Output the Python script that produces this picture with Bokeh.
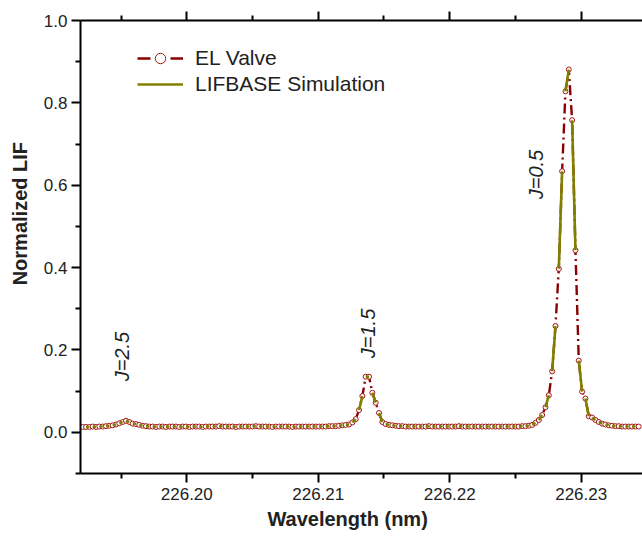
import numpy as np
from bokeh.plotting import figure
from bokeh.models import (LinearAxis, FixedTicker, PrintfTickFormatter, Range1d,
                          Legend, LegendItem)
from bokeh.embed import file_html
from bokeh.resources import INLINE
from bokeh.core.properties import value

# ---- data -------------------------------------------------------------
wl_start = 226.192084      # first scan wavelength (nm)
wl_step = 0.00025323       # scan step (nm)

lif_el = [
    0.013, 0.013, 0.013, 0.014, 0.013, 0.014, 0.014, 0.015, 0.016, 0.017,   # 0
    0.019, 0.022, 0.025, 0.028, 0.025, 0.021, 0.020, 0.018, 0.016, 0.015,   # 10
    0.014, 0.014, 0.013, 0.014, 0.014, 0.013, 0.014, 0.014, 0.014, 0.013,   # 20
    0.014, 0.014, 0.013, 0.014, 0.014, 0.014, 0.013, 0.014, 0.014, 0.014,   # 30
    0.014, 0.015, 0.014, 0.014, 0.014, 0.014, 0.013, 0.014, 0.014, 0.014,   # 40
    0.014, 0.014, 0.015, 0.014, 0.014, 0.014, 0.014, 0.013, 0.014, 0.014,   # 50
    0.014, 0.014, 0.014, 0.013, 0.014, 0.014, 0.014, 0.014, 0.014, 0.014,   # 60
    0.014, 0.014, 0.014, 0.014, 0.015, 0.015, 0.015, 0.016, 0.017, 0.018,   # 70
    0.019, 0.024, 0.032, 0.054, 0.088, 0.135, 0.135, 0.096, 0.072, 0.047,   # 80
    0.025, 0.020, 0.018, 0.017, 0.016, 0.015, 0.015, 0.014, 0.014, 0.014,   # 90
    0.014, 0.014, 0.014, 0.014, 0.015, 0.014, 0.014, 0.014, 0.014, 0.014,   # 100
    0.014, 0.014, 0.014, 0.015, 0.014, 0.014, 0.014, 0.014, 0.014, 0.014,   # 110
    0.014, 0.014, 0.014, 0.014, 0.014, 0.014, 0.014, 0.014, 0.014, 0.014,   # 120
    0.014, 0.014, 0.015, 0.015, 0.016, 0.018, 0.023, 0.030, 0.042, 0.061,   # 130
    0.090, 0.148, 0.258, 0.397, 0.634, 0.828, 0.881, 0.758, 0.442, 0.174,   # 140
    0.099, 0.082, 0.039, 0.036, 0.030, 0.025, 0.021, 0.019, 0.017, 0.016,   # 150
    0.015, 0.015, 0.014, 0.014, 0.014, 0.014, 0.014, 0.014,                 # 160
]
# LIFBASE simulation coincides with the measured points
lif_sim = lif_el

x_major = [226.20, 226.21, 226.22, 226.23]
x_minor = [226.195, 226.205, 226.215, 226.225, 226.235]
y_major = [0.0, 0.2, 0.4, 0.6, 0.8, 1.0]
y_minor = [-0.1, 0.1, 0.3, 0.5, 0.7, 0.9]

j_labels = ["J=2.5", "J=1.5", "J=0.5"]
j_x = [226.19511, 226.21382, 226.22658]
j_y = [0.184, 0.240, 0.626]

wl = [wl_start + wl_step * i for i in range(len(lif_el))]

RED = "#8b0000"
CIRC = "#a31515"
OLIVE = "#808000"
FONT = "Liberation Sans"
TXT = "#222222"
NB = "\u00a0"

p = figure(width=642, height=537,
           x_range=Range1d(226.191916, 226.234662), y_range=Range1d(-0.1, 1.0),
           x_axis_location=None, y_axis_location=None,
           output_backend="svg", toolbar_location=None,
           min_border_left=80, min_border_right=0, min_border_top=20,
           min_border_bottom=64)
p.grid.visible = False
p.outline_line_color = None
p.background_fill_color = "white"


def style(ax):
    ax.axis_line_width = 2
    ax.axis_line_color = "black"
    ax.major_tick_line_width = 2
    ax.minor_tick_line_width = 2
    ax.major_tick_line_color = "black"
    ax.minor_tick_line_color = "black"
    ax.major_tick_in = 0
    ax.minor_tick_in = 0
    ax.major_tick_out = 9
    ax.minor_tick_out = 5
    ax.major_label_text_font = FONT
    ax.major_label_text_font_size = "17px"
    ax.major_label_text_color = TXT
    ax.axis_label_text_font = FONT
    ax.axis_label_text_font_style = "bold"
    ax.axis_label_text_font_size = "20px"
    ax.axis_label_text_color = TXT


xb = LinearAxis(ticker=FixedTicker(ticks=x_major, minor_ticks=x_minor),
                formatter=PrintfTickFormatter(format="%.2f"),
                axis_label="Wavelength (nm)" + NB * 5)
style(xb)
xb.major_label_standoff = 5
xb.axis_label_standoff = 5
p.add_layout(xb, "below")

# top frame axis: ticks only, no labels
xt = LinearAxis(ticker=FixedTicker(ticks=x_major, minor_ticks=x_minor),
                major_label_overrides={t: "" for t in x_major})
style(xt)
xt.major_label_text_font_size = "8px"
xt.major_label_standoff = 0
p.add_layout(xt, "above")

yl = LinearAxis(ticker=FixedTicker(ticks=y_major, minor_ticks=y_minor),
                formatter=PrintfTickFormatter(format="%.1f"),
                axis_label=NB * 12 + "Normalized LIF")
style(yl)
yl.major_label_standoff = 4
yl.axis_label_standoff = 10
p.add_layout(yl, "left")

# ---- data glyphs ------------------------------------------------------
p.line(wl, lif_el, line_color=RED, line_width=2.4, line_dash="10 4 2 4")
p.scatter(wl, lif_el, size=5, fill_color="white", line_color=CIRC, line_width=1)
s0 = list(range(1, len(lif_sim) - 1, 2))
p.segment(x0=[wl[i] for i in s0], y0=[lif_sim[i] for i in s0],
          x1=[wl[i + 1] for i in s0], y1=[lif_sim[i + 1] for i in s0],
          line_color=OLIVE, line_width=2.6)

p.text(x=j_x, y=j_y, text=j_labels, angle=np.pi / 2, text_align="center",
       text_baseline="middle", text_font=value(FONT), text_font_style="italic",
       text_font_size="20px", text_color=TXT)

# ---- legend (swatch renderers hold points below the visible range) ----
sw_x = [wl[0], wl[1]]
sw_y = [-1.0, -1.0]
leg_line = p.line(sw_x, sw_y, line_color=RED, line_width=2.4, line_dash="13 20")
leg_circ = p.scatter(sw_x, sw_y, size=5, fill_color="white", line_color=CIRC, line_width=1)
leg_sim = p.line(sw_x, sw_y, line_color=OLIVE, line_width=2.6)
legend = Legend(items=[LegendItem(label="EL Valve", renderers=[leg_line, leg_circ]),
                       LegendItem(label="LIFBASE Simulation", renderers=[leg_sim])],
                location=(57, 376), orientation="vertical",
                background_fill_alpha=0, border_line_color=None,
                padding=0, margin=0, spacing=0,
                glyph_width=46, glyph_height=26, label_height=26,
                label_standoff=12, label_text_font=FONT,
                label_text_font_size="21px", label_text_color=TXT)
p.add_layout(legend)

open("out.html", "w").write(file_html(p, INLINE))
